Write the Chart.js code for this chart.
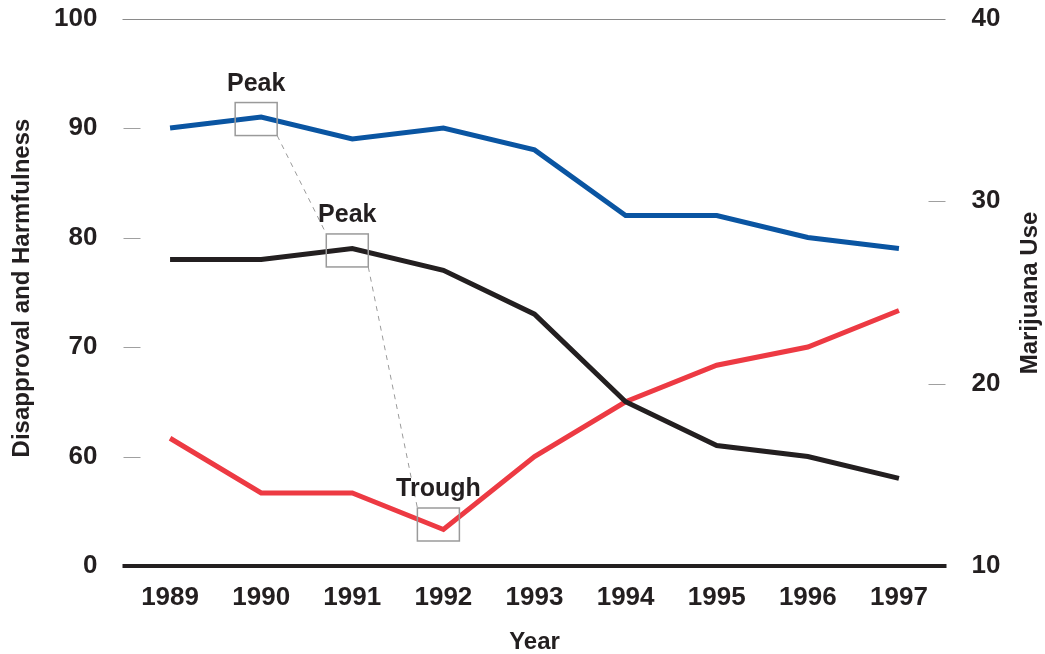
<!DOCTYPE html>
<html>
<head>
<meta charset="utf-8">
<script src="https://cdn.jsdelivr.net/npm/chart.js@4.4.1/dist/chart.umd.min.js"></script>
<style>
  body { margin: 0; background: #fff; }
  #wrap { width: 1045px; height: 654px; position: relative; }
</style>
</head>
<body>
<div id="wrap"><canvas id="chartTrend"></canvas></div>
<script>
let years = ['1989', '1990', '1991', '1992', '1993', '1994', '1995', '1996', '1997'];
let disapproval = [90, 91, 89, 90, 88, 82, 82, 80, 79];
let harmfulness = [78, 78, 79, 77, 73, 65, 61, 60, 58];
let marijuanaUse = [17, 14, 14, 12, 16, 19, 21, 22, 24];

// left axis is broken: the bottom tick (50) is labelled 0
let leftTicks = [50, 60, 70, 80, 90, 100];
let leftTickLabels = ['0', '60', '70', '80', '90', '100'];
let rightTicks = [10, 20, 30, 40];

// annotations: label, year, which series it marks
let noteLabels = ['Peak', 'Peak', 'Trough'];
let noteYears = ['1990', '1991', '1992'];
let noteSeries = ['disapproval', 'harmfulness', 'marijuanaUse'];

const ink = '#231f20';
const font = 'Liberation Sans, Arial, Helvetica, sans-serif';

let extras = {
    id: 'extras',
    beforeDatasetsDraw(chart) {
        const ctx = chart.ctx;
        const yl = chart.scales.yLeft, yr = chart.scales.yRight;
        const area = chart.chartArea;
        ctx.save();
        // top gridline
        ctx.strokeStyle = '#8a8a8a';
        ctx.lineWidth = 1;
        ctx.beginPath();
        let top = Math.round(yl.getPixelForValue(100)) + 0.5;
        ctx.moveTo(area.left - 2, top);
        ctx.lineTo(area.right + 1, top);
        ctx.stroke();
        // short tick marks
        ctx.strokeStyle = '#a0a0a0';
        leftTicks.slice(1, -1).forEach(v => {
            let y = Math.round(yl.getPixelForValue(v)) + 0.5;
            ctx.beginPath();
            ctx.moveTo(area.left - 1, y);
            ctx.lineTo(area.left + 16, y);
            ctx.stroke();
        });
        rightTicks.slice(1, -1).forEach(v => {
            let y = Math.round(yr.getPixelForValue(v)) + 0.5;
            ctx.beginPath();
            ctx.moveTo(area.right - 16, y);
            ctx.lineTo(area.right + 1, y);
            ctx.stroke();
        });
        ctx.restore();
    },
    afterDatasetsDraw(chart) {
        const ctx = chart.ctx;
        const x = chart.scales.x;
        const area = chart.chartArea;
        ctx.save();
        // bottom axis line
        ctx.strokeStyle = ink;
        ctx.lineWidth = 4;
        ctx.beginPath();
        ctx.moveTo(area.left - 2, area.bottom);
        ctx.lineTo(area.right + 2, area.bottom);
        ctx.stroke();

        // boxes round peaks / trough
        let boxes = noteYears.map((yr, i) => {
            let idx = years.indexOf(yr);
            let ds = chart.data.datasets.find(d => d.key == noteSeries[i]);
            let scale = chart.scales[ds.yAxisID];
            let px = x.getPixelForValue(idx) - 5;
            let py = scale.getPixelForValue(ds.data[idx]) + (noteLabels[i] == 'Trough' ? -5 : 2);
            return { l: px - 21, t: py - 16.5, r: px + 21, b: py + 16.5, cx: px };
        });
        ctx.strokeStyle = '#9a9a9a';
        ctx.lineWidth = 1.5;
        boxes.forEach(b => ctx.strokeRect(b.l, b.t, b.r - b.l, b.b - b.t));

        ctx.setLineDash([5, 5]);
        ctx.lineWidth = 1;
        for (let i = 0; i < boxes.length - 1; i++) {
            ctx.beginPath();
            ctx.moveTo(boxes[i].r, boxes[i].b);
            ctx.lineTo(boxes[i + 1].l, boxes[i + 1].t);
            ctx.stroke();
        }
        ctx.setLineDash([]);

        ctx.fillStyle = ink;
        ctx.font = 'bold 25px ' + font;
        ctx.textAlign = 'center';
        ctx.textBaseline = 'alphabetic';
        boxes.forEach((b, i) => ctx.fillText(noteLabels[i], b.cx, b.t - 12));

        // axis titles
        ctx.font = 'bold 24px ' + font;
        ctx.textBaseline = 'middle';
        ctx.fillText('Year', (area.left + area.right) / 2, 642);
        ctx.save();
        ctx.translate(22, 288);
        ctx.rotate(-Math.PI / 2);
        ctx.fillText('Disapproval and Harmfulness', 0, 0);
        ctx.restore();
        ctx.save();
        ctx.translate(1030, 293);
        ctx.rotate(-Math.PI / 2);
        ctx.fillText('Marijuana Use', 0, 0);
        ctx.restore();
        ctx.restore();
    }
};

let tickFont = { family: font, size: 26, weight: 'bold' };

function fitY(width) {
    return function(s) {
        s.width = width;
        s.paddingTop = 0;
        s.paddingBottom = 0;
    };
}

let chart = new Chart(document.getElementById('chartTrend'), {
    type: 'line',
    data: {
        labels: years,
        datasets: [
            { key: 'disapproval', label: 'Disapproval', data: disapproval, borderColor: '#0a55a2', yAxisID: 'yLeft' },
            { key: 'harmfulness', label: 'Harmfulness', data: harmfulness, borderColor: ink, yAxisID: 'yLeft' },
            { key: 'marijuanaUse', label: 'Marijuana Use', data: marijuanaUse, borderColor: '#ed3a43', yAxisID: 'yRight' }
        ]
    },
    options: {
        responsive: true,
        maintainAspectRatio: false,
        animation: false,
        layout: { padding: { top: 18.5 } },
        elements: {
            line: { borderWidth: 5, tension: 0, fill: false },
            point: { radius: 0, hoverRadius: 0 }
        },
        plugins: { legend: { display: false }, tooltip: { enabled: false } },
        scales: {
            x: {
                offset: true,
                grid: { display: false },
                border: { display: false },
                ticks: { color: ink, font: tickFont, padding: 8.5, maxRotation: 0 },
                afterFit(s) { s.height = 88; s.paddingLeft = 0; s.paddingRight = 0; }
            },
            yLeft: {
                position: 'left',
                min: 50, max: 100,
                grid: { display: false },
                border: { display: false },
                afterBuildTicks(s) { s.ticks = leftTicks.map(v => ({ value: v })); },
                ticks: {
                    color: ink, font: tickFont, padding: 19,
                    callback: v => leftTickLabels[leftTicks.indexOf(v)]
                },
                afterFit: fitY(124.5)
            },
            yRight: {
                position: 'right',
                min: 10, max: 40,
                grid: { display: false },
                border: { display: false },
                afterBuildTicks(s) { s.ticks = rightTicks.map(v => ({ value: v })); },
                ticks: { color: ink, font: tickFont, padding: 19 },
                afterFit: fitY(100.5)
            }
        }
    },
    plugins: [extras]
});
</script>
</body>
</html>
